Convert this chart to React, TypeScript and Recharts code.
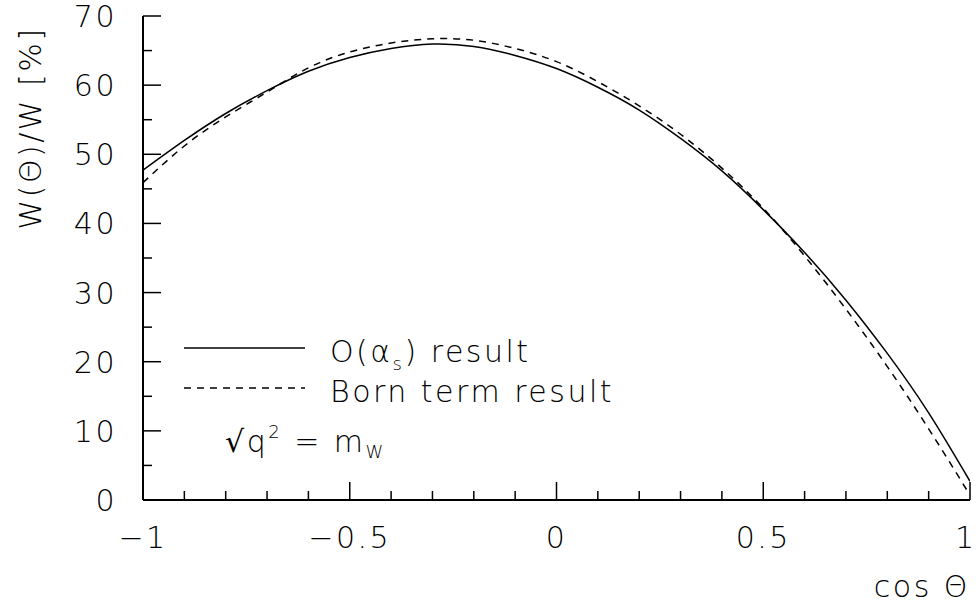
import React from 'react';
import { LineChart, Line, XAxis, YAxis, Legend } from 'recharts';

const cosTheta = [-1, -0.9, -0.8, -0.7, -0.6, -0.5, -0.4, -0.3, -0.2, -0.1, 0, 0.1, 0.2, 0.3, 0.4, 0.5, 0.6, 0.7, 0.8, 0.9, 1];
const alphaSResult = [47.7, 52.0, 55.9, 59.2, 62.0, 64.0, 65.3, 65.95, 65.6, 64.3, 62.4, 59.7, 56.4, 52.3, 47.6, 42.0, 35.8, 28.9, 21.2, 12.6, 2.7];
const bornResult = [45.9, 51.2, 55.4, 59.0, 62.5, 64.8, 66.1, 66.7, 66.5, 65.3, 63.4, 60.5, 57.0, 52.9, 48.0, 42.2, 35.3, 27.6, 19.3, 10.3, 0.7];

const xTicks = [-1, -0.9, -0.8, -0.7, -0.6, -0.5, -0.4, -0.3, -0.2, -0.1, 0, 0.1, 0.2, 0.3, 0.4, 0.5, 0.6, 0.7, 0.8, 0.9, 1];
const xMajor = [-1, -0.5, 0, 0.5, 1];
const xMajorLabels = ['\u22121', '\u22120.5', '0', '0.5', '1'];
const yTicks = [0, 5, 10, 15, 20, 25, 30, 35, 40, 45, 50, 55, 60, 65, 70];
const yMajor = [0, 10, 20, 30, 40, 50, 60, 70];
const yMajorLabels = ['0', '10', '20', '30', '40', '50', '60', '70'];

const data = cosTheta.map((c, i) => ({ c, o: alphaSResult[i], b: bornResult[i] }));

const FONT = '"DejaVu Sans", sans-serif';
const FW = 200;
const FS = 30;
const LS = 2.5;
const MAJ = 18;
const MIN = 9;

const majorIdx = (arr: number[], v: number) => arr.findIndex((m) => Math.abs(m - v) < 1e-6);

const XBottomTick = (props: any) => {
  const { x, y, payload } = props;
  const i = majorIdx(xMajor, payload.value);
  const len = i >= 0 ? MAJ : MIN;
  const last = i === xMajor.length - 1;
  return (
    <g>
      <line x1={x} x2={x} y1={y} y2={y - len} stroke="#000" strokeWidth={1.5} />
      {i >= 0 && (
        <text
          x={last ? x + 4 : x}
          y={y + 48}
          textAnchor={last ? 'end' : 'middle'}
          fontFamily={FONT}
          fontWeight={FW}
          fontSize={FS}
          letterSpacing={last ? 0 : LS}
          fill="#000"
        >
          {xMajorLabels[i]}
        </text>
      )}
    </g>
  );
};

const XTopTick = (props: any) => {
  const { x, y, payload } = props;
  const i = majorIdx(xMajor, payload.value);
  const len = i >= 0 ? MAJ : MIN;
  return <line x1={x} x2={x} y1={y} y2={y + len} stroke="#000" strokeWidth={1.5} />;
};

const YLeftTick = (props: any) => {
  const { x, y, payload } = props;
  const i = majorIdx(yMajor, payload.value);
  const len = i >= 0 ? MAJ : MIN;
  return (
    <g>
      <line x1={x} x2={x + len} y1={y} y2={y} stroke="#000" strokeWidth={1.5} />
      {i >= 0 && (
        <text x={x - 26} y={y + 11} textAnchor="end" fontFamily={FONT} fontWeight={FW} fontSize={FS} letterSpacing={LS} fill="#000">
          {yMajorLabels[i]}
        </text>
      )}
    </g>
  );
};

const YRightTick = (props: any) => {
  const { x, y, payload } = props;
  const i = majorIdx(yMajor, payload.value);
  const len = i >= 0 ? MAJ : MIN;
  return <line x1={x} x2={x - len} y1={y} y2={y} stroke="#000" strokeWidth={1.5} />;
};

const LegendBox = (props: any) => {
  const payload = props.payload || [];
  const solid = payload.find((p: any) => p.dataKey === 'o');
  const dashed = payload.find((p: any) => p.dataKey === 'b');
  return (
    <svg width={460} height={140} style={{ display: 'block', overflow: 'visible' }}>
      <line x1={0} x2={121} y1={18} y2={18} stroke={solid ? solid.color : '#000'} strokeWidth={1.5} />
      <text x={146} y={32} fontFamily={FONT} fontWeight={FW} fontSize={FS} letterSpacing={LS} fill="#000">
        O(α
        <tspan fontSize={18} dy={8}>s</tspan>
        <tspan dy={-8}>) result</tspan>
      </text>
      <line x1={0} x2={121} y1={58} y2={58} stroke={dashed ? dashed.color : '#000'} strokeWidth={1.5} strokeDasharray="7 6" />
      <text x={146} y={72} fontFamily={FONT} fontWeight={FW} fontSize={FS} letterSpacing={LS} fill="#000">
        Born term result
      </text>
      <text x={41} y={122} fontFamily={FONT} fontWeight={FW} fontSize={FS} letterSpacing={LS} fill="#000">
        <tspan fontWeight={400}>√</tspan>q<tspan fontSize={18} dy={-14}>2</tspan>
        <tspan dy={14}> = m</tspan>
        <tspan fontSize={18} dy={6}>W</tspan>
      </text>
    </svg>
  );
};

export default function App() {
  return (
    <div style={{ position: 'absolute', left: 0, top: 0, width: 976, height: 604, background: '#fff' }}>
      <LineChart width={976} height={604} data={data} margin={{ top: 16, right: 6, bottom: 0, left: 0 }}>
        <XAxis
          dataKey="c"
          type="number"
          domain={[-1, 1]}
          ticks={xTicks}
          interval={0}
          height={104}
          tickSize={0}
          tickMargin={0}
          tick={<XBottomTick />}
          axisLine={{ stroke: '#000', strokeWidth: 2 }}
          allowDataOverflow
        />
        <XAxis
          xAxisId="top"
          orientation="top"
          dataKey="c"
          type="number"
          domain={[-1, 1]}
          ticks={xTicks}
          interval={0}
          height={0}
          tickSize={0}
          tickMargin={0}
          tick={<XTopTick />}
          axisLine={{ stroke: '#000', strokeWidth: 2 }}
          allowDataOverflow
        />
        <YAxis
          type="number"
          domain={[0, 70]}
          ticks={yTicks}
          interval={0}
          width={143}
          tickSize={0}
          tickMargin={0}
          tick={<YLeftTick />}
          axisLine={{ stroke: '#000', strokeWidth: 2 }}
          allowDataOverflow
        />
        <YAxis
          yAxisId="right"
          orientation="right"
          type="number"
          domain={[0, 70]}
          ticks={yTicks}
          interval={0}
          width={0}
          tickSize={0}
          tickMargin={0}
          tick={<YRightTick />}
          axisLine={{ stroke: '#000', strokeWidth: 2 }}
          allowDataOverflow
        />
        <Line type="natural" dataKey="o" name="O(αs) result" stroke="#000" strokeWidth={1.5} dot={false} isAnimationActive={false} />
        <Line type="natural" dataKey="b" name="Born term result" stroke="#000" strokeWidth={1.5} strokeDasharray="7 6" dot={false} isAnimationActive={false} />
        <Legend
          content={<LegendBox />}
          layout="vertical"
          verticalAlign="middle"
          align="center"
          wrapperStyle={{ position: 'absolute', left: 184, top: 330, width: 460, height: 140 }}
        />
        <text x={30} y={128} transform="rotate(-90 30 128)" textAnchor="middle" dominantBaseline="central" fontFamily={FONT} fontWeight={FW} fontSize={FS} letterSpacing={LS} fill="#000">
          W(Θ)/W [%]
        </text>
        <text x={970} y={597} textAnchor="end" fontFamily={FONT} fontWeight={FW} fontSize={FS} letterSpacing={LS} fill="#000">
          cos Θ
        </text>
      </LineChart>
    </div>
  );
}
